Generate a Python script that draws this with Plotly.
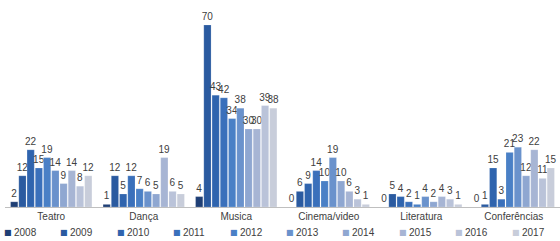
import plotly.graph_objects as go

categories = ["Teatro", "Dança", "Musica", "Cinema/video", "Literatura", "Conferências"]
years = ["2008", "2009", "2010", "2011", "2012", "2013", "2014", "2015", "2016", "2017"]
values = {
    "2008": [2, 1, 4, 0, 0, 0],
    "2009": [12, 12, 70, 6, 5, 1],
    "2010": [22, 5, 43, 9, 4, 15],
    "2011": [15, 12, 42, 14, 2, 3],
    "2012": [19, 7, 34, 10, 1, 21],
    "2013": [14, 6, 38, 19, 4, 23],
    "2014": [9, 5, 30, 10, 2, 12],
    "2015": [14, 19, 30, 6, 4, 22],
    "2016": [8, 6, 39, 3, 3, 11],
    "2017": [12, 5, 38, 1, 1, 15],
}
colors = ["#1f3f75", "#2a5aa0", "#2f64ae", "#3a70bb", "#4a80c6", "#6a92cc",
          "#8fa7d1", "#a7b5d4", "#bac3d9", "#c8cdda"]

W, H = 560, 241
ML, MR, MT, MB = 5, 0, 5, 34
PW = W - ML - MR
PH = H - MT - MB

fig = go.Figure()
for yr, col in zip(years, colors):
    fig.add_trace(go.Bar(
        name=yr, x=categories, y=values[yr],
        marker=dict(color=col, line=dict(color="rgba(255,255,255,0.35)", width=0.5)),
        text=[str(v) for v in values[yr]], textposition="outside",
        textfont=dict(size=10, color="#404040", family="Liberation Sans"),
        constraintext="none", cliponaxis=False,
    ))

# legend drawn as annotations (one row, evenly spaced like the reference)
legend_y = (PH - (232 - MT)) / PH
step = 56.4
annotations = []
for i, (yr, col) in enumerate(zip(years, colors)):
    x0 = 8 + i * step
    annotations.append(dict(
        text="■", x=(x0 - ML) / PW, y=legend_y, xref="paper", yref="paper",
        xanchor="center", yanchor="middle", showarrow=False,
        font=dict(size=8, color=col, family="DejaVu Sans")))
    annotations.append(dict(
        text=yr, x=(x0 + 4 - ML) / PW, y=legend_y, xref="paper", yref="paper",
        xanchor="left", yanchor="middle", showarrow=False,
        font=dict(size=10, color="#404040", family="Liberation Sans")))

fig.update_layout(
    template="none",
    width=W, height=H,
    margin=dict(l=ML, r=MR, t=MT, b=MB, autoexpand=False),
    barmode="group", bargap=0.11, bargroupgap=0.12,
    plot_bgcolor="white", paper_bgcolor="white",
    font=dict(family="Liberation Sans", size=10, color="#404040"),
    xaxis=dict(showline=True, linecolor="#bfbfbf", linewidth=1, ticks="",
               tickfont=dict(size=10, color="#404040"), showgrid=False,
               automargin=False, zeroline=False),
    yaxis=dict(visible=False, range=[0, 77.7], automargin=False),
    showlegend=False,
    annotations=annotations,
)
fig.write_html("out.html", config={"displayModeBar": False},
               post_script="document.body.style.margin='0';document.body.style.padding='0';")
